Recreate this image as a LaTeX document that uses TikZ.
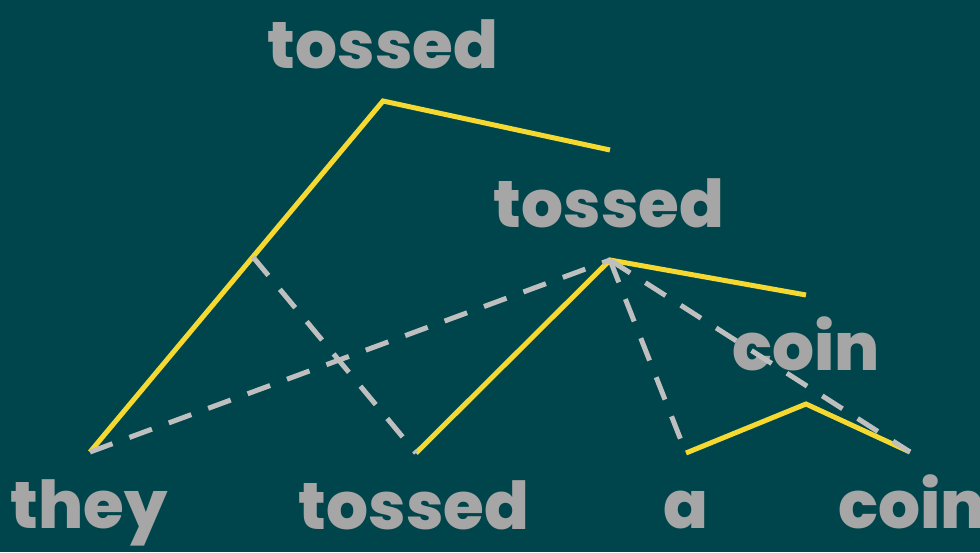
\documentclass[tikz,border=0pt]{standalone}
\usepackage{fontspec}
\setmainfont{Poppins}[UprightFont=*-ExtraBold,BoldFont=*-ExtraBold]
\definecolor{bg}{HTML}{00454B}
\definecolor{wordgray}{HTML}{A6A6A6}
\definecolor{dashgray}{HTML}{BFBFBF}
\definecolor{gold}{HTML}{F5D930}
\tikzset{
  word/.style={text=wordgray, font=\fontsize{66}{72}\selectfont, anchor=base, inner sep=0pt},
  arc/.style={draw=gold, line width=5pt, line join=miter},
  dep/.style={draw=dashgray, line width=5pt, dash pattern=on 24pt off 18pt}
}
\begin{document}
\begin{tikzpicture}[x=1pt,y=-1pt]
\fill[bg] (0,0) rectangle (980,552);
\useasboundingbox (0,0) rectangle (980,552);
% words
\node[word] (w1) at (383,68) {tossed};
\node[word] (w2) at (609,227) {tossed};
\node[word] (w3) at (806,370) {coin};
\node[word] (they) at (89,528) {they};
\node[word] (tossedb) at (414,529) {tossed};
\node[word] (a) at (686,528) {a};
\node[word] (coinb) at (912,528) {coin};
% points
\coordinate (p1) at (90,452);
\coordinate (top) at (383,101);
\coordinate (e1) at (610,150);
\coordinate (p2) at (416,453);
\coordinate (mid) at (610,260);
\coordinate (e2) at (806,295);
\coordinate (p3) at (686,453);
\coordinate (low) at (806,404);
\coordinate (p4) at (910,452);
\coordinate (br) at (253,257);
% yellow arcs
\draw[arc] (p1) -- (top) -- (e1);
\draw[arc] (p2) -- (mid) -- (e2);
\draw[arc] (p3) -- (low) -- (p4);
% dashed
\draw[dep] (br) -- (p2);
\draw[dep] (p1) -- (mid);
\draw[dep] (mid) -- (p3);
\draw[dep] (mid) -- (p4);
\end{tikzpicture}
\end{document}
